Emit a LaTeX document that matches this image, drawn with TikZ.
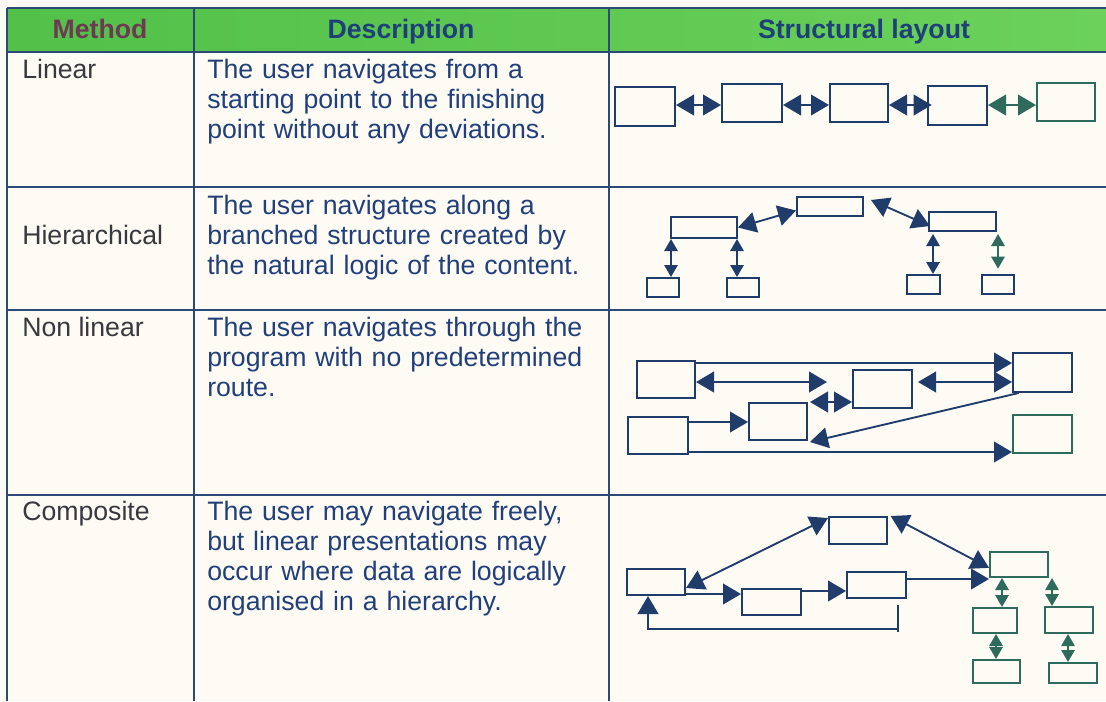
\documentclass[tikz,border=0pt]{standalone}
\usepackage{fontspec}
\setmainfont{Liberation Sans}
\usetikzlibrary{arrows.meta,fit}
\definecolor{rulec}{HTML}{2C4A78}
\definecolor{navyc}{HTML}{1F3C6A}
\definecolor{tealc}{HTML}{2E6B5C}
\definecolor{paper}{HTML}{FDFBF4}
\definecolor{headA}{HTML}{52C049}
\definecolor{headB}{HTML}{6BD15A}
\definecolor{methodc}{HTML}{6E3A52}
\definecolor{headtxt}{HTML}{1E3F7A}
\definecolor{descc}{HTML}{213F7A}
\definecolor{methc}{HTML}{38393E}
\begin{document}
\begin{tikzpicture}[x=0.75pt,y=-0.75pt,
  Big/.tip={Triangle[length=13.5pt,width=15.5pt]},
  Sml/.tip={Triangle[length=9pt,width=10pt]},
  box/.style={draw=navyc, line width=1.5pt, inner sep=0pt},
  tbox/.style={box, draw=tealc},
  lnk/.style={draw=navyc, line width=1.4pt},
  tlnk/.style={lnk, draw=tealc},
  headtext/.style={anchor=base, inner sep=0pt, font=\bfseries\fontsize{20}{24}\selectfont, text=headtxt},
  methtext/.style={anchor=base west, inner sep=0pt, font=\fontsize{20}{22.5}\selectfont, text=methc},
  desctext/.style={anchor=base west, inner sep=0pt, text width=400pt, align=left,
                   font=\fontsize{20}{22.5}\selectfont, text=descc}]
\useasboundingbox (0,0) rectangle (1106,701);
\fill[paper] (0,0) rectangle (1106,701);

% header band
\shade[left color=headA, right color=headB] (7,8) rectangle (1106,52);

% table rules
\begin{scope}[draw=rulec, line width=1.3pt]
  \draw (7,8) -- (1106,8);
  \foreach \yy in {52,187,310,495} \draw (7,\yy) -- (1106,\yy);
  \foreach \xx in {7,194,609} \draw (\xx,8) -- (\xx,701);
\end{scope}

% header texts
\node[headtext, text=methodc] (hm) at (100,38) {Method};
\node[headtext] (hd) at (401,38) {Description};
\node[headtext] (hs) at (864,38) {Structural layout};

% method names
\node[methtext] (m1) at (22,78) {Linear};
\node[methtext] (m2) at (22,244) {Hierarchical};
\node[methtext] (m3) at (22,336) {Non linear};
\node[methtext] (m4) at (22,520) {Composite};

% descriptions
\node[desctext] (d1) at (207,78) {The user navigates from a\\starting point to the finishing\\point without any deviations.};
\node[desctext] (d2) at (207,214) {The user navigates along a\\branched structure created by\\the natural logic of the content.};
\node[desctext] (d3) at (207,336) {The user navigates through the\\program with no predetermined\\route.};
\node[desctext] (d4) at (207,520) {The user may navigate freely,\\but linear presentations may\\occur where data are logically\\organised in a hierarchy.};

% ---------- linear ----------
\node[box,  fit={(615,87) (675,126)}] (L1) {};
\node[box,  fit={(722,84) (782,122)}] (L2) {};
\node[box,  fit={(830,84) (888,122)}] (L3) {};
\node[box,  fit={(928,86) (987,125)}] (L4) {};
\node[tbox, fit={(1037,83) (1095,121)}] (L5) {};
\coordinate (ly) at (0,105);
\draw[lnk, Big-Big] (L1.east |- ly) -- (L2.west |- ly);
\draw[lnk, Big-Big] (L2.east |- ly) -- (L3.west |- ly);
\draw[lnk, Big-Big] (L3.east |- ly) -- ([xshift=3.5pt]L4.west |- ly);
\draw[tlnk, Big-Big] (L4.east |- ly) -- (L5.west |- ly);

% ---------- hierarchical ----------
\node[box, fit={(797,197) (863,216)}] (H0) {};
\node[box, fit={(671,217) (737,238)}] (HL) {};
\node[box, fit={(929,212) (996,231)}] (HR) {};
\node[box, fit={(647,278) (679,297)}] (B1) {};
\node[box, fit={(727,278) (759,297)}] (B2) {};
\node[box, fit={(907,275) (940,294)}] (B3) {};
\node[box, fit={(982,275) (1014,294)}] (B4) {};
\coordinate (h0r) at (871,200);
\coordinate (hrl) at (930,226);
\draw[lnk, Big-Big] (HL.east) -- ([yshift=-3pt]H0.west);
\draw[lnk, Big-Big] (h0r) -- (hrl);
\coordinate (v1) at (671,0);
\coordinate (v2) at (737,0);
\coordinate (v3) at (933,0);
\coordinate (v4) at (998,0);
\draw[lnk, Sml-Sml] (v1 |- HL.south) -- (v1 |- B1.north);
\draw[lnk, Sml-Sml] (v2 |- HL.south) -- (v2 |- B2.north);
\draw[lnk, Sml-Sml] ([yshift=-1.5pt]v3 |- HR.south) -- (v3 |- B3.north);
\draw[tlnk, Sml-Sml] ([yshift=-1.5pt]v4 |- HR.south) -- ([yshift=4pt]v4 |- B4.north);

% ---------- non linear ----------
\node[box, fit={(637,361) (695,398)}] (N1) {};
\node[box, fit={(853,370) (912,408)}] (N2) {};
\node[box, fit={(1013,353) (1072,392)}] (N3) {};
\node[box, fit={(628,417) (688,454)}] (N4) {};
\node[box, fit={(749,403) (807,440)}] (N5) {};
\node[tbox, fit={(1013,415) (1072,453)}] (N6) {};
\coordinate (r1) at (0,363);
\coordinate (r2) at (0,382);
\coordinate (m1) at (827,382);
\coordinate (m2) at (918,382);
\coordinate (m3) at (810,402);
\coordinate (m4) at (810,442);
\coordinate (r4) at (0,422);
\coordinate (r5) at (0,452);
\draw[lnk, -Big] (N1.east |- r1) -- (N3.west |- r1);
\draw[lnk, Big-Big] (N1.east |- r2) -- (m1);
\draw[lnk, Big-Big] (m2) -- (N3.west |- r2);
\draw[lnk, Big-Big] (m3) -- (N2.west |- m3);
\draw[lnk, -Big] (N4.east |- r4) -- (N5.west |- r4);
\draw[lnk, -Big] ([xshift=5pt]N3.south west) -- (m4);
\draw[lnk, -Big] (N4.east |- r5) -- (N6.west |- r5);

% ---------- composite ----------
\node[box,  fit={(627,569) (685,595)}] (C1) {};
\node[box,  fit={(829,517) (887,544)}] (C2) {};
\node[box,  fit={(742,589) (801,615)}] (C3) {};
\node[box,  fit={(847,572) (906,598)}] (C4) {};
\node[tbox, fit={(990,552) (1048,577)}] (C5) {};
\node[tbox, fit={(973,608) (1017,633)}] (C6) {};
\node[tbox, fit={(1045,607) (1093,633)}] (C7) {};
\node[tbox, fit={(973,660) (1020,683)}] (C8) {};
\node[tbox, fit={(1049,663) (1097,683)}] (C9) {};
\draw[lnk, Big-Big] ([yshift=-4.5pt]C1.east) -- ([yshift=-1.5pt]C2.north west);
\draw[lnk, Big-Big] ([xshift=2pt]C2.north east) -- ([yshift=-2.5pt]C5.west);
\coordinate (r6) at (0,594);
\coordinate (r7) at (0,591);
\coordinate (r8) at (0,579);
\draw[lnk, -Big] (C1.east |- r6) -- (C3.west |- r6);
\draw[lnk, -Big] (C3.east |- r7) -- (C4.west |- r7);
\draw[lnk, -Big] (C4.east |- r8) -- (C5.west |- r8);
% return path under the row
\coordinate (ft) at (898,605);
\coordinate (fb) at (898,632);
\coordinate (fm) at (898,629);
\coordinate (fl) at (648,0);
\draw[lnk] (ft) -- (fb);
\draw[lnk, -Big] (fm) -- (fl |- fm) -- (fl |- C1.south);
% hierarchy below the right box
\coordinate (w1) at (1002,0);
\coordinate (w2) at (1052,0);
\coordinate (w3) at (996,0);
\coordinate (w4) at (1068,0);
\draw[tlnk, Sml-Sml] (w1 |- C5.south) -- (w1 |- C6.north);
\draw[tlnk, Sml-Sml] (w2 |- C5.south) -- (w2 |- C7.north);
\draw[tlnk, Sml-Sml] (w3 |- C6.south) -- (w3 |- C8.north);
\draw[tlnk, Sml-Sml] (w4 |- C7.south) -- (w4 |- C9.north);
\end{tikzpicture}
\end{document}
